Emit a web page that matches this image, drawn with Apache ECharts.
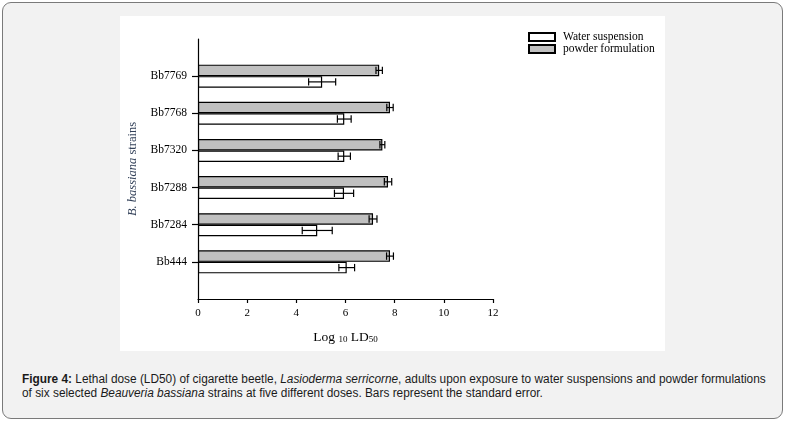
<!DOCTYPE html>
<html>
<head>
<meta charset="utf-8">
<script src="https://cdn.jsdelivr.net/npm/echarts@6/dist/echarts.min.js"></script>
<style>
  html, body { margin:0; padding:0; background:#ffffff; }
  #frame { position:absolute; left:2px; top:2px; width:781px; height:417px; border:1px solid #7a7a7a; border-radius:9px; background:#f2f2f2; box-sizing:border-box; }
  #panel { position:absolute; left:120px; top:16px; width:545px; height:335px; background:#ffffff; }
  #caption { position:absolute; left:22px; top:373.3px; white-space:nowrap; font-family:"Liberation Sans",Arial,sans-serif; font-size:12.5px; line-height:13.5px; color:#1a1a1a; transform:scaleX(0.948); transform-origin:0 0; }
</style>
</head>
<body>
<div id="frame"></div>
<div id="panel"></div>
<div id="caption"><b>Figure 4:</b> Lethal dose (LD50) of cigarette beetle, <i>Lasioderma serricorne</i>, adults upon exposure to water suspensions and powder formulations<br>of six selected <i>Beauveria bassiana</i> strains at five different doses. Bars represent the standard error.</div>
<script>
const categories = ['', 'Bb444', 'Bb7284', 'Bb7288', 'Bb7320', 'Bb7768', 'Bb7769', ''];
const waterMean  = [null, 6.05, 4.85, 5.94, 5.95, 5.95, 5.05, null];
const waterErr   = [null, 0.32, 0.61, 0.39, 0.25, 0.28, 0.55, null];
const powderMean = [null, 7.81, 7.12, 7.73, 7.50, 7.81, 7.37, null];
const powderErr  = [null, 0.14, 0.16, 0.15, 0.10, 0.13, 0.13, null];
const xTicks = { min: 0, max: 12, interval: 2 };

const chart = echarts.init(document.getElementById('panel'));
const serif = '"Liberation Serif","Times New Roman",serif';
const BAR_W = 11.5;

function errSeries(name, means, errs, sign) {
  const data = [];
  means.forEach((m, i) => { if (m != null) data.push([m, i, errs[i]]); });
  return {
    type: 'custom', name: name + ' err', silent: true, z: 5,
    renderItem: function (params, api) {
      const m = api.value(0), idx = api.value(1), e = api.value(2);
      const p1 = api.coord([m - e, idx]);
      const p2 = api.coord([m + e, idx]);
      const y = p1[1] + sign * BAR_W / 2;
      const h = 3.7;
      const st = { stroke: '#000', lineWidth: 1.2 };
      return { type: 'group', children: [
        { type: 'line', shape: { x1: p1[0], y1: y, x2: p2[0], y2: y }, style: st },
        { type: 'line', shape: { x1: p1[0], y1: y - h, x2: p1[0], y2: y + h }, style: st },
        { type: 'line', shape: { x1: p2[0], y1: y - h, x2: p2[0], y2: y + h }, style: st }
      ]};
    },
    encode: { x: 0, y: 1 },
    data: data
  };
}

chart.setOption({
  animation: false,
  grid: { left: 78, top: 23, width: 295, height: 260, containLabel: false, outerBoundsMode: 'none' },
  legend: {
    data: ['Water suspension', 'powder formulation'],
    orient: 'vertical', left: 408, top: 15, padding: 0, itemWidth: 26, itemHeight: 8, itemGap: 0,
    icon: 'rect',
    textStyle: { fontFamily: serif, fontSize: 11.5, color: '#000', padding: [0, 0, 0, 3] },
    selectedMode: false
  },
  xAxis: {
    type: 'value', min: xTicks.min, max: xTicks.max, interval: xTicks.interval,
    axisLine: { show: true, lineStyle: { color: '#000', width: 1.2 } },
    axisTick: { show: true, length: 4, lineStyle: { color: '#000', width: 1.2 } },
    axisLabel: { fontFamily: serif, fontSize: 11, color: '#000', margin: 9 },
    splitLine: { show: false },
    name: '{m|Log }{sub|10}{m| LD}{sub|50}', nameLocation: 'middle', nameGap: 29,
    nameTextStyle: { fontFamily: serif, fontSize: 13.5, color: '#000',
      rich: {
        m: { fontFamily: serif, fontSize: 13.5, color: '#000', lineHeight: 16, verticalAlign: 'bottom' },
        sub: { fontFamily: serif, fontSize: 9, color: '#000', lineHeight: 8, verticalAlign: 'bottom' }
      } }
  },
  yAxis: {
    type: 'category', data: categories, boundaryGap: false,
    axisLine: { show: true, lineStyle: { color: '#000', width: 1.2 } },
    axisTick: { show: true, length: 6, inside: false, lineStyle: { color: '#000', width: 1.2 },
      interval: function (i, v) { return v !== ''; } },
    axisLabel: { fontFamily: serif, fontSize: 11.5, color: '#000', margin: 11, interval: 0 },
    splitLine: { show: false },
    name: '{i|B. bassiana} strains', nameLocation: 'middle', nameGap: 59, nameRotate: 90,
    nameTextStyle: { fontFamily: serif, fontSize: 12.5, color: '#34425a',
      rich: { i: { fontFamily: serif, fontSize: 12.5, fontStyle: 'italic', color: '#34425a' } } }
  },
  series: [
    { type: 'bar', name: 'powder formulation', data: powderMean, barWidth: BAR_W, barGap: '0%',
      itemStyle: { color: '#c0c0c0', borderColor: '#000', borderWidth: 1.2 } },
    { type: 'bar', name: 'Water suspension', data: waterMean, barWidth: BAR_W, barGap: '0%',
      itemStyle: { color: '#ffffff', borderColor: '#000', borderWidth: 1.2 } },
    errSeries('powder', powderMean, powderErr, -1),
    errSeries('water', waterMean, waterErr, 1)
  ]
});
</script>
</body>
</html>
